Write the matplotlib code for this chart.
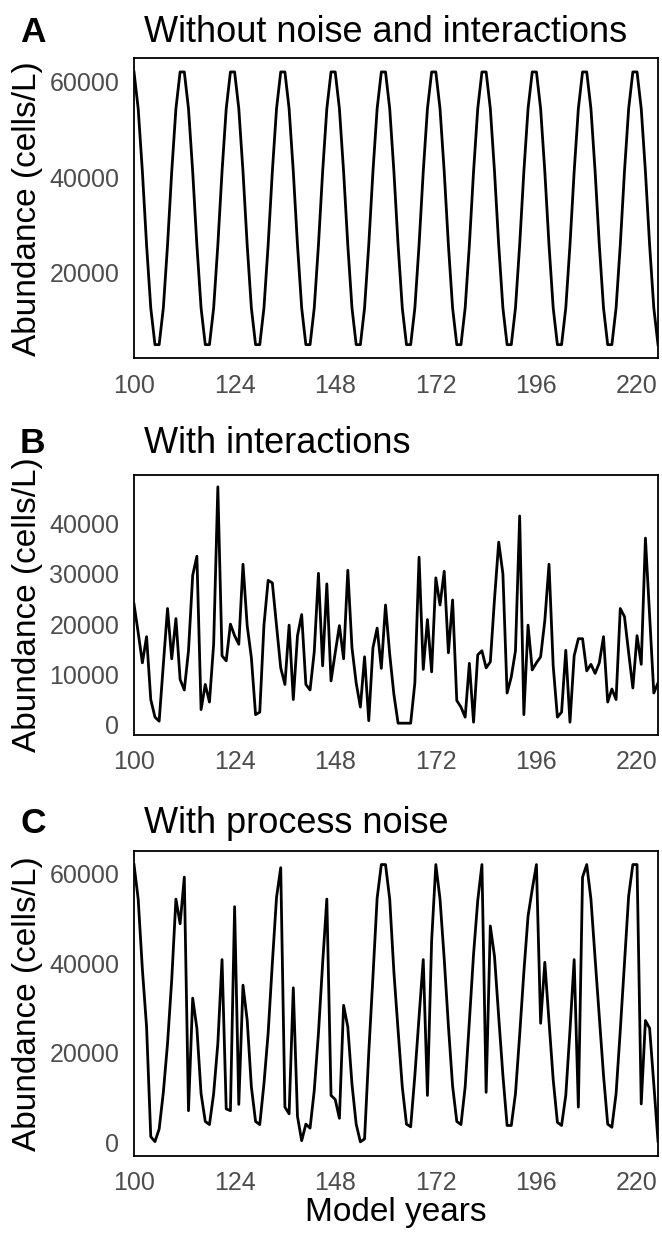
import matplotlib
matplotlib.use("Agg")
import matplotlib.pyplot as plt
import numpy as np

# ---------------- data ----------------
years = np.arange(100, 226)
x_ticks = [100, 124, 148, 172, 196, 220]
panel_letters = ["A", "B", "C"]
panel_titles = ["Without noise and interactions", "With interactions", "With process noise"]
yticks_A = [20000, 40000, 60000]
yticks_B = [0, 10000, 20000, 30000, 40000]
yticks_C = [0, 20000, 40000, 60000]

abund_A = [
    62100, 54400, 41200, 25800, 12600, 4900, 4900, 12600, 25800, 41200, 54400, 62100,
    62100, 54400, 41200, 25800, 12600, 4900, 4900, 12600, 25800, 41200, 54400, 62100,
    62100, 54400, 41200, 25800, 12600, 4900, 4900, 12600, 25800, 41200, 54400, 62100,
    62100, 54400, 41200, 25800, 12600, 4900, 4900, 12600, 25800, 41200, 54400, 62100,
    62100, 54400, 41200, 25800, 12600, 4900, 4900, 12600, 25800, 41200, 54400, 62100,
    62100, 54400, 41200, 25800, 12600, 4900, 4900, 12600, 25800, 41200, 54400, 62100,
    62100, 54400, 41200, 25800, 12600, 4900, 4900, 12600, 25800, 41200, 54400, 62100,
    62100, 54400, 41200, 25800, 12600, 4900, 4900, 12600, 25800, 41200, 54400, 62100,
    62100, 54400, 41200, 25800, 12600, 4900, 4900, 12600, 25800, 41200, 54400, 62100,
    62100, 54400, 41200, 25800, 12600, 4900, 4900, 12600, 25800, 41200, 54400, 62100,
    62100, 54400, 41200, 25800, 12600, 4900,
]

abund_B = [
    24000, 18300, 12300, 17500, 5000, 1500, 700, 12000, 23100, 13100,
    21100, 9000, 6900, 14700, 29700, 33500, 3000, 8000, 4500, 16000,
    47300, 13700, 12700, 20000, 17700, 16000, 31900, 19700, 13300, 2000,
    2500, 19800, 28700, 28200, 19700, 11300, 8000, 19800, 5000, 17700,
    21900, 8000, 6900, 14500, 30100, 11700, 28000, 8700, 14300, 19700,
    13100, 30700, 15300, 8300, 3500, 13500, 800, 15300, 19200, 11200,
    23800, 14000, 6000, 300, 300, 300, 300, 8300, 33300, 11000,
    20900, 10500, 29200, 23800, 30500, 14300, 24800, 4800, 3500, 1500,
    12200, 500, 13900, 14700, 11300, 12500, 25000, 36300, 30000, 6300,
    9500, 14700, 41500, 2000, 19800, 10900, 12300, 13500, 20700, 31900,
    11700, 1500, 2500, 14800, 500, 13700, 17100, 17100, 10700, 12000,
    10200, 12300, 17500, 4500, 7100, 5000, 23100, 21500, 14300, 7300,
    17700, 12000, 37100, 21700, 6300, 8300,
]

abund_C = [
    62000, 54300, 38600, 25800, 1300, 200, 3000, 11200, 22100, 36300,
    54300, 48800, 59200, 7100, 32200, 25500, 10900, 4700, 4000, 10900,
    22100, 40800, 7500, 7100, 52600, 8500, 35100, 27300, 12400, 4700,
    4000, 13100, 24400, 40000, 54700, 61300, 7900, 6400, 34500, 5800,
    400, 4100, 3200, 11600, 24400, 40000, 54300, 10500, 9600, 5400,
    30600, 25800, 13000, 4100, 150, 800, 20000, 37000, 54500, 62000,
    62000, 54300, 38000, 25000, 12400, 4100, 3500, 15000, 28000, 40800,
    10500, 45000, 62000, 54300, 41000, 26000, 12600, 4700, 4000, 12400,
    27000, 42000, 54000, 62000, 11200, 48300, 41500, 28000, 15000, 3800,
    3800, 10900, 24000, 38000, 50500, 56500, 62000, 26600, 40200, 27000,
    14000, 4500, 3800, 10500, 25000, 40800, 7900, 59200, 62000, 54300,
    41000, 28000, 15000, 4100, 3400, 10900, 25000, 40000, 55000, 62000,
    62000, 8600, 27200, 25500, 13000, 300,
]

assert len(abund_A) == len(years) and len(abund_B) == len(years) and len(abund_C) == len(years)

# ---------------- style ----------------
plt.rcParams['font.family'] = ['Liberation Sans', 'DejaVu Sans']
W, H = 662, 1233
fig = plt.figure(figsize=(W / 100, H / 100), dpi=100)

LEFT, RIGHT = 134, 658


def rect(top, bottom):
    return [LEFT / W, 1 - bottom / H, (RIGHT - LEFT) / W, (bottom - top) / H]


panels = [
    (rect(58.3, 358.3), abund_A, yticks_A, 42),
    (rect(475, 735), abund_B, yticks_B, 453),
    (rect(850.7, 1155.7), abund_C, yticks_C, 833),
]

for i, (r, vals, yt, base) in enumerate(panels):
    ax = fig.add_axes(r)
    ax.plot(years, vals, color='black', lw=2.0, solid_joinstyle='round')
    ax.set_xlim(years[0], years[-1])
    lo, hi = min(vals), max(vals)
    span = hi - lo
    ax.set_ylim(lo - 0.05 * span, hi + 0.05 * span)
    ax.set_xticks(x_ticks)
    ax.set_yticks(yt)
    ax.tick_params(axis='x', length=0, pad=11, labelsize=18, labelcolor='#4d4d4d')
    ax.tick_params(axis='y', length=0, pad=10.5, labelsize=18, labelcolor='#4d4d4d')
    for s in ax.spines.values():
        s.set_linewidth(1.3)
        s.set_color('black')
    fig.text(28 / W, r[1] + r[3] / 2, "Abundance (cells/L)", rotation=90,
             ha='center', va='center', fontsize=24)
    fig.text(20 / W, 1 - base / H, panel_letters[i], fontsize=25.5,
             fontweight='bold', ha='left', va='baseline')
    fig.text(144 / W, 1 - base / H, panel_titles[i], fontsize=26,
             ha='left', va='baseline')

fig.text((LEFT + RIGHT) / 2 / W, 1 - 1213 / H, "Model years", fontsize=24,
         ha='center', va='center')

fig.savefig("out.png", dpi=100)
